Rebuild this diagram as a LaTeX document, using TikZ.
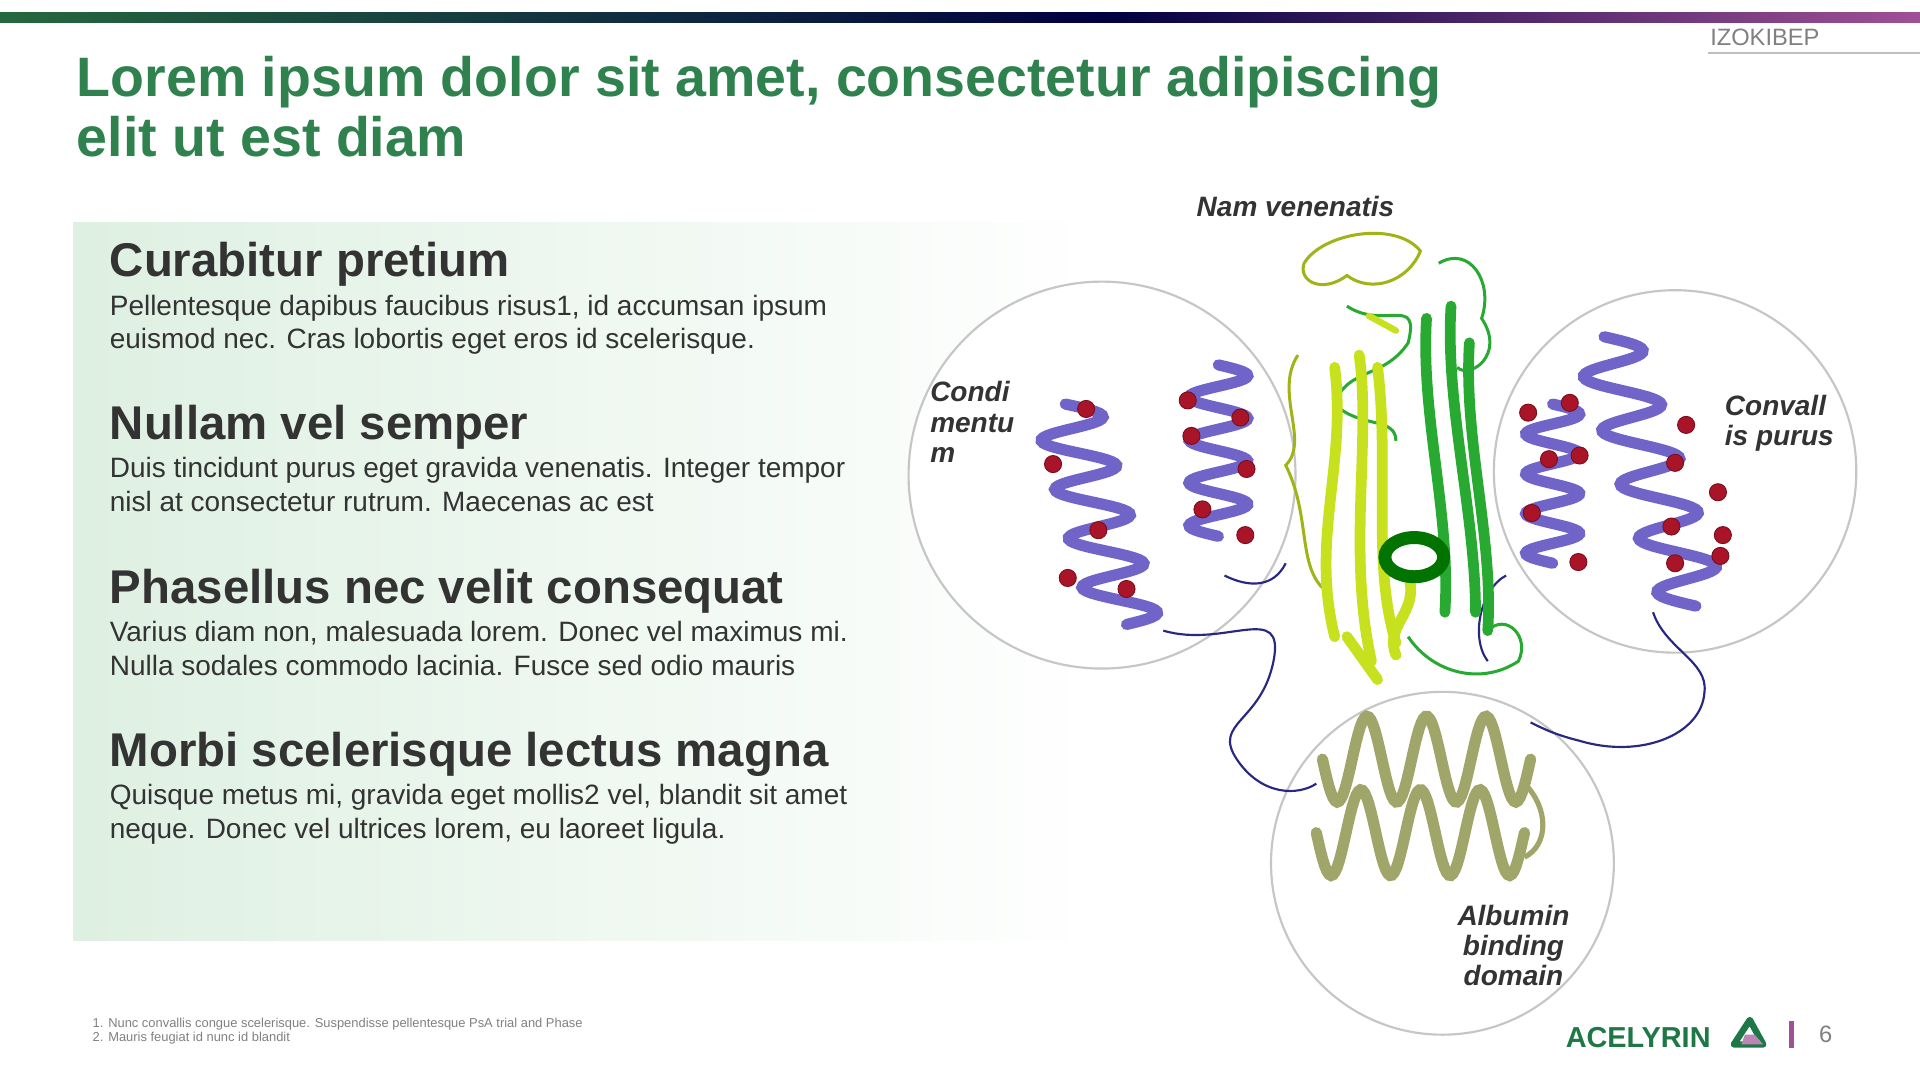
\documentclass[tikz,border=0pt]{standalone}
\usepackage{fontspec}
\setmainfont{Liberation Sans}
\usetikzlibrary{shadings}
\definecolor{tgreen}{RGB}{47,130,78}
\definecolor{dgray}{RGB}{51,51,51}
\definecolor{hpurple}{RGB}{112,100,200}
\definecolor{hred}{RGB}{170,20,40}
\definecolor{olive}{RGB}{160,165,105}
\definecolor{navy}{RGB}{40,40,130}
\definecolor{lgreen}{RGB}{200,225,30}
\definecolor{mgreen}{RGB}{40,170,50}
\definecolor{logogreen}{RGB}{30,120,70}
\definecolor{magenta2}{RGB}{160,80,150}
\definecolor{paleg}{RGB}{222,240,226}
\tikzset{
 head/.style={anchor=north west,font=\bfseries\fontsize{11}{12}\selectfont,text=dgray,inner sep=0},
 body/.style={anchor=north west,font=\fontsize{6.5}{7.8}\selectfont,text=dgray,inner sep=0,align=left},
 lab/.style={font=\bfseries\itshape\fontsize{6.5}{7}\selectfont,text=dgray,inner sep=0,align=left},
 ring/.style={draw=gray!45,line width=0.5pt},
 helix/.style={hpurple,line width=2.6pt,line cap=round},
 ball/.style={fill=hred,draw=hred!70!black,line width=0.2pt},
 linker/.style={navy,line width=0.5pt},
 ribY/.style={lgreen,line width=2.5pt,line cap=round},
 ribG/.style={mgreen,line width=2.5pt,line cap=round},
 loopY/.style={lgreen!80!black,line width=0.7pt},
 loopG/.style={mgreen,line width=0.7pt},
 coilO/.style={olive,line width=2.6pt,line cap=round}
}
\begin{document}
\begin{tikzpicture}[x=0.01cm,y=-0.01cm]
\useasboundingbox (0,0) rectangle (1568,882);
\fill[white] (0,0) rectangle (1568,882);
% top bar
\shade[left color=tgreen!80!black,right color=black!75!blue] (0,10) rectangle (900,18);
\shade[left color=black!75!blue,right color=magenta2] (900,10) rectangle (1568,18);
\node[anchor=north west,inner sep=0,text=gray,font=\fontsize{5.5}{6}\selectfont] (izo) at (1396,23) {IZOKIBEP};
\draw[gray!50,line width=0.4pt] (1395,43) -- (1568,43);
% title
\node[anchor=north west,inner sep=0,text=tgreen,align=left,font=\bfseries\fontsize{12.9}{14}\selectfont] (title) at (62,45) {Lorem ipsum dolor sit amet, consectetur adipiscing\\elit ut est diam};
% green box
\shade[left color=paleg,right color=white] (60,182) rectangle (900,768);
\node[head] (h1) at (89,197) {Curabitur pretium};
\node[body] (b1) at (89,240) {Pellentesque dapibus faucibus risus1, id accumsan ipsum\\euismod nec. Cras lobortis eget eros id scelerisque.};
\node[head] (h2) at (89,330) {Nullam vel semper};
\node[body] (b2) at (89,373) {Duis tincidunt purus eget gravida venenatis. Integer tempor\\nisl at consectetur rutrum. Maecenas ac est};
\node[head] (h3) at (89,464) {Phasellus nec velit consequat};
\node[body] (b3) at (89,507) {Varius diam non, malesuada lorem. Donec vel maximus mi.\\Nulla sodales commodo lacinia. Fusce sed odio mauris};
\node[head] (h4) at (89,597) {Morbi scelerisque lectus magna};
\node[body] (b4) at (89,640) {Quisque metus mi, gravida eget mollis2 vel, blandit sit amet\\neque. Donec vel ultrices lorem, eu laoreet ligula.};
% circles
\fill[white] (900,388) circle (158);
\fill[white] (1368,385) circle (148);
\fill[white] (1178,705) circle (140);
\draw[ring] (900,388) circle (158);
\draw[ring] (1368,385) circle (148);
\draw[ring] (1178,705) circle (140);
% linker
\draw[linker] (950,515) .. controls (1000,530) and (1050,490) .. (1040,540) .. controls (1030,590) and (990,590) .. (1010,620) .. controls (1030,650) and (1060,650) .. (1075,640);
\draw[linker] (1350,500) .. controls (1360,530) and (1395,540) .. (1392,565) .. controls (1390,600) and (1340,620) .. (1290,605) .. controls (1270,600) and (1260,595) .. (1250,590);
\draw[linker] (1000,470) .. controls (1020,480) and (1040,480) .. (1050,460);
\draw[linker] (1230,470) .. controls (1210,480) and (1200,520) .. (1215,540);
% center ribbons and loops
\draw[loopY] (1065,215) .. controls (1080,190) and (1140,180) .. (1160,205) .. controls (1150,230) and (1120,240) .. (1100,225) .. controls (1080,240) and (1060,230) .. (1065,215);
\draw[loopG] (1175,215) .. controls (1200,200) and (1220,230) .. (1210,260) .. controls (1230,290) and (1200,310) .. (1190,300);
\draw[loopY] (1060,290) .. controls (1040,320) and (1070,360) .. (1050,380) .. controls (1070,420) and (1060,460) .. (1080,480);
\draw[loopG] (1100,250) .. controls (1130,270) and (1160,240) .. (1150,280) .. controls (1130,310) and (1100,300) .. (1090,330) .. controls (1110,350) and (1140,340) .. (1140,360);
\draw[loopG] (1150,520) .. controls (1170,550) and (1210,560) .. (1240,540) .. controls (1250,520) and (1230,500) .. (1215,515);
\draw[ribY] (1090,300) .. controls (1100,380) and (1070,440) .. (1090,520);
\draw[ribY] (1110,290) .. controls (1120,360) and (1100,450) .. (1120,540);
\draw[ribY] (1125,300) .. controls (1135,380) and (1120,460) .. (1140,525);
\draw[ribY] (1100,520) -- (1125,555);
\draw[ribY] (1150,470) .. controls (1160,500) and (1130,510) .. (1140,535);
\draw[ribG] (1165,260) .. controls (1160,340) and (1185,420) .. (1180,500);
\draw[ribG] (1185,250) .. controls (1180,330) and (1205,420) .. (1205,500);
\draw[ribG] (1200,280) .. controls (1195,360) and (1220,440) .. (1215,515);
\draw[line width=3pt,green!45!black] (1155,455) ellipse (24 and 16);
\draw[ribY,line width=1.5pt] (1118,258) -- (1140,270);
% left helices
\draw[helix] plot[domain=0:1620,samples=120] ({870+28*sin(\x)+\x/1620*50},{330+\x/1620*180});
\draw[helix] plot[domain=0:1440,samples=110] ({995+24*sin(\x)},{298+\x/1440*140});
\foreach \p in {(887,334),(860,379),(897,433),(872,472),(920,481),(970,327),(1013,341),(973,356),(1018,383),(982,416),(1017,437)}
  \fill[ball] \p circle (7);
% right helices
\draw[helix] plot[domain=0:1440,samples=110] ({1268+22*sin(\x)},{330+\x/1440*130});
\draw[helix] plot[domain=0:1800,samples=140] ({1310+28*sin(\x)+\x/1800*75},{275+\x/1800*220});
\foreach \p in {(1248,337),(1282,329),(1265,375),(1290,372),(1251,419),(1289,459),(1377,347),(1368,378),(1403,402),(1365,430),(1407,437),(1405,454),(1368,460)}
  \fill[ball] \p circle (7);
% bottom olive coils
\draw[coilO] plot[domain=0:1260,samples=100] ({1080+\x/1260*170},{620+35*sin(\x)});
\draw[coilO] plot[domain=0:1260,samples=100] ({1075+\x/1260*170},{680+35*sin(\x)});
\draw[olive,line width=1.2pt] (1245,640) .. controls (1265,660) and (1265,690) .. (1245,700);
% labels
\node[lab] (l1) at (1058,169) {Nam venenatis};
\node[lab,anchor=north west] (l2) at (759,311) {Condi\\mentu\\m};
\node[lab,anchor=north west] (l3) at (1408,322) {Convall\\is purus};
\node[lab,align=center] (l4) at (1236,772) {Albumin\\binding\\domain};
% footer
\node[anchor=north west,inner sep=0,text=gray,font=\fontsize{3}{3.3}\selectfont,align=left] (fn) at (75,831) {1. Nunc convallis congue scelerisque. Suspendisse pellentesque PsA trial and Phase\\2. Mauris feugiat id nunc id blandit};
\node[anchor=west,inner sep=0,text=logogreen,font=\bfseries\fontsize{6.7}{7}\selectfont] (logo) at (1278,847) {ACELYRIN};
\draw[line width=1.5pt,logogreen,line join=round] (1416,853) -- (1429,833) -- (1440,853) -- cycle;
\fill[magenta2!70] (1425,845) -- (1433,845) -- (1440,853) -- (1422,853) -- cycle;
\draw[magenta2,line width=1pt] (1463,834) -- (1463,856);
\node[anchor=west,inner sep=0,text=gray,font=\fontsize{5.5}{6}\selectfont] (pg) at (1485,845) {6};
\end{tikzpicture}
\end{document}
